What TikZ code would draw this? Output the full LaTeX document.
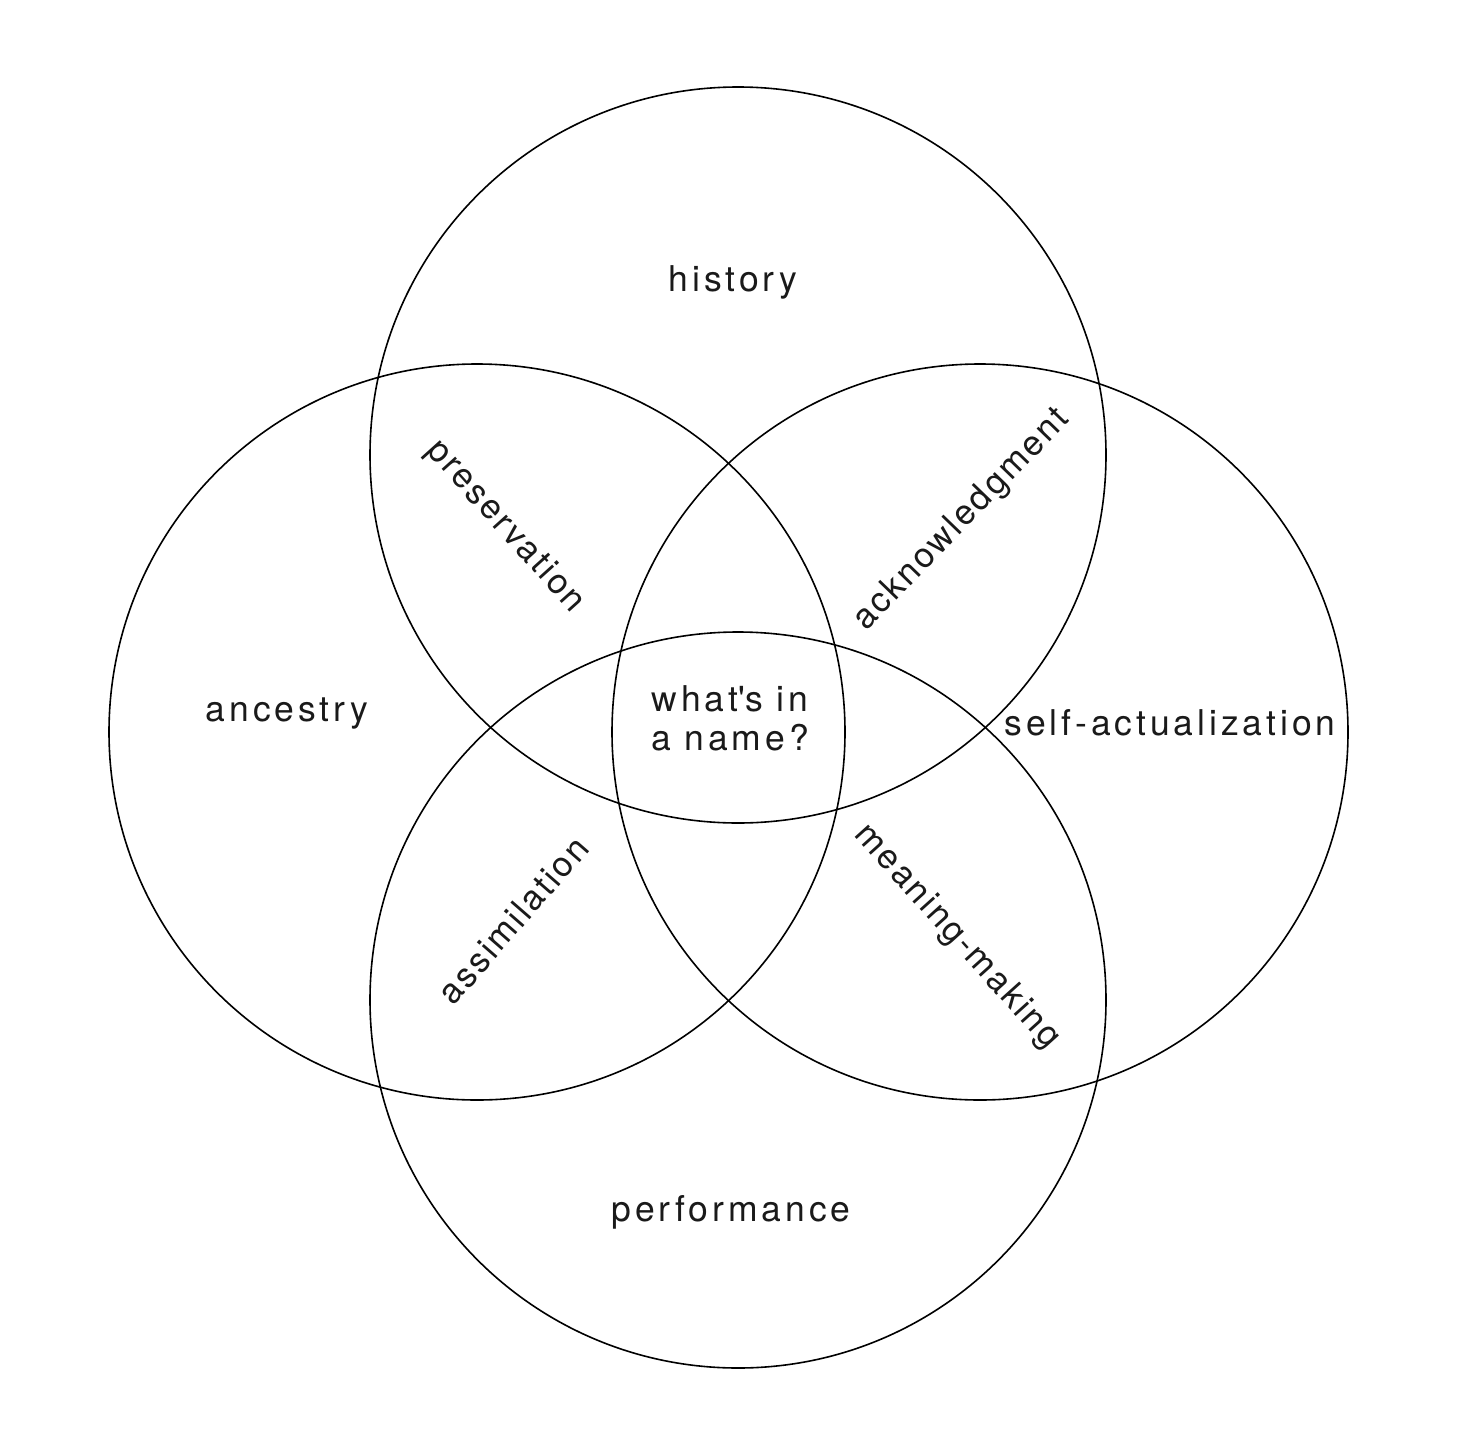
\documentclass[tikz,border=0pt]{standalone}
\usepackage{fontspec}
\setmainfont{TeX Gyre Heros}[LetterSpace=11]
\newfontfamily\rotfont{TeX Gyre Heros}[LetterSpace=7]
\definecolor{ink}{HTML}{1A1A1A}
\begin{document}
\begin{tikzpicture}[x=0.5pt,y=-0.5pt,
  ring/.style={draw=black,line width=0.8pt},
  lbl/.style={text=ink,font=\fontsize{17.75}{19.5}\selectfont,align=center,inner sep=0pt},
  rlbl/.style={text=ink,font=\rotfont\fontsize{17.4}{19.5}\selectfont,inner sep=0pt}]
\path[fill=white] (0,0) rectangle (1456,1456);
\useasboundingbox (0,0) rectangle (1456,1456);
\draw[ring] (738,455) circle[radius=368] node(top){};
\draw[ring] (477,732) circle[radius=368] node(left){};
\draw[ring] (980,732) circle[radius=368] node(right){};
\draw[ring] (738,1000) circle[radius=368] node(bottom){};
\node[lbl] (history) at (733,282) {history};
\node[lbl] (ancestry) at (287,714) {ancestry};
\node[lbl] (selfact) at (1170,723) {self-actualization};
\node[lbl] (performance) at (731,1212) {performance};
\node[lbl] (center) at (730,718) {what\textquotesingle s in\\a name?};
\node[rlbl,rotate=-48] (preservation) at (505,527) {preservation};
\node[rlbl,rotate=46] (acknowledgment) at (962,520) {acknowledgment};
\node[rlbl,rotate=49] (assimilation) at (513,920) {assimilation};
\node[rlbl,rotate=-48] (meaning) at (957,937) {meaning-making};
\end{tikzpicture}
\end{document}
